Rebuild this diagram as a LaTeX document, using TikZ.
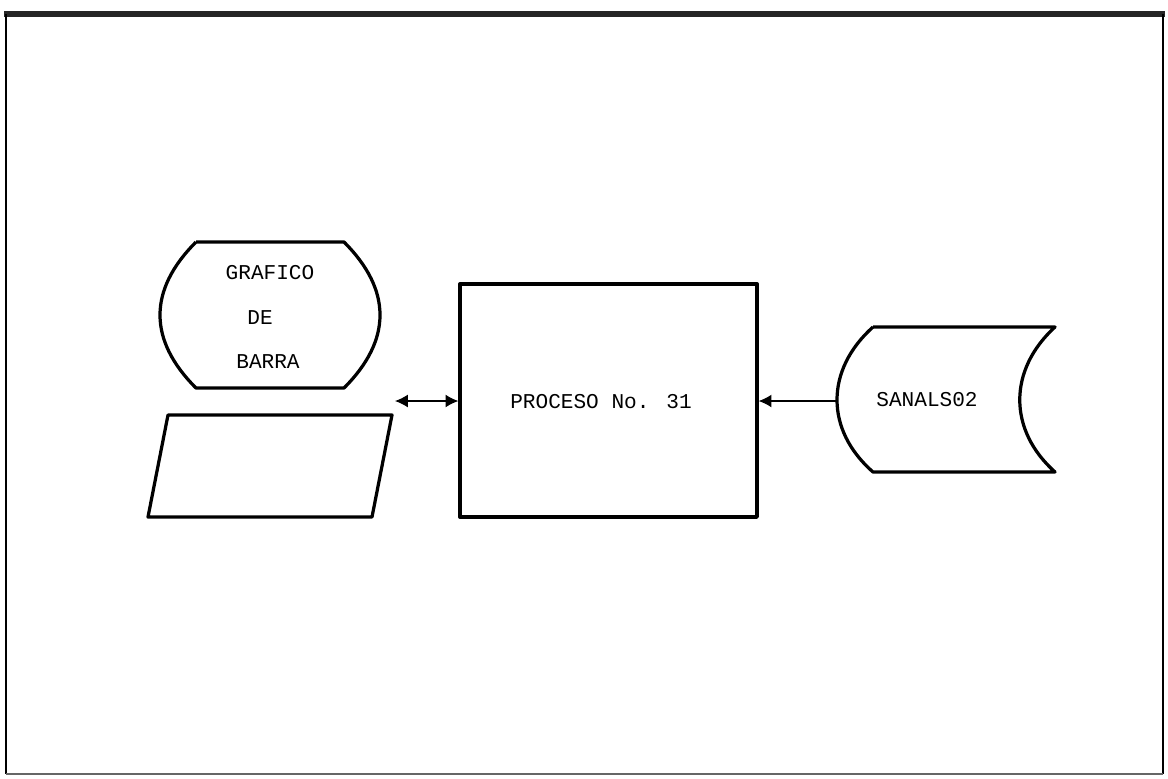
\documentclass[tikz,border=0pt]{standalone}
\usepackage{fontspec}
\newfontfamily\dotfont{Liberation Mono}
\usepackage{tikz}
\usetikzlibrary{arrows.meta,positioning}

\tikzset{
  shapeline/.style={line width=2.3pt,line join=round},
  flowline/.style={line width=0.8pt},
  tip/.style={-{Latex[length=3.2mm,width=3.2mm]}},
  lbl/.style={font=\dotfont\fontsize{15}{18}\selectfont,inner sep=0pt}
}

\begin{document}
\begin{tikzpicture}[x=0.025cm,y=-0.025cm]
\useasboundingbox (0,0) rectangle (1168,778);
% frame
\draw[line width=4.5pt,black!85] (4,14) -- (1165,14);
\draw[line width=2pt] (6,14) -- (6,774);
\draw[line width=1.5pt] (1163,14) -- (1163,774);
\draw[line width=1pt,black!60] (6,774) -- (1163,774);

% display
\draw[shapeline] (196,242) -- (344,242)
  .. controls (392,290) and (392,340) .. (344,388) -- (196,388)
  .. controls (148,340) and (148,290) .. (196,242);
\node[lbl] (graf) at (270,273) {GRAFICO};
\node[lbl] (de) at (260,318) {DE};
\node[lbl] (barra) at (268,362) {BARRA};

% parallelogram
\draw[shapeline] (168,415) -- (392,415) -- (372,517) -- (148,517) -- cycle;

% process
\node[draw,shapeline,minimum width=7.425cm,minimum height=5.825cm,inner sep=0pt] (proc) at (608.5,400.5) {};
\node[lbl] (proctext) at (601,402) {PROCESO No. 31};

% stored data
\draw[shapeline] (873,327) -- (1055,327)
  .. controls (1008,370) and (1008,430) .. (1055,472) -- (873,472)
  .. controls (825,430) and (825,370) .. (873,327);
\node[lbl] (store) at (927,400) {SANALS02};

% connectors
\coordinate (dbl) at (395,401);
\coordinate (storew) at (837,401);
\draw[flowline,{Latex[length=3.2mm,width=3.2mm]}-{Latex[length=3.2mm,width=3.2mm]}] (dbl) -- (proc.west |- dbl);
\draw[flowline,tip] (storew) -- (proc.east |- storew);
\end{tikzpicture}
\end{document}
